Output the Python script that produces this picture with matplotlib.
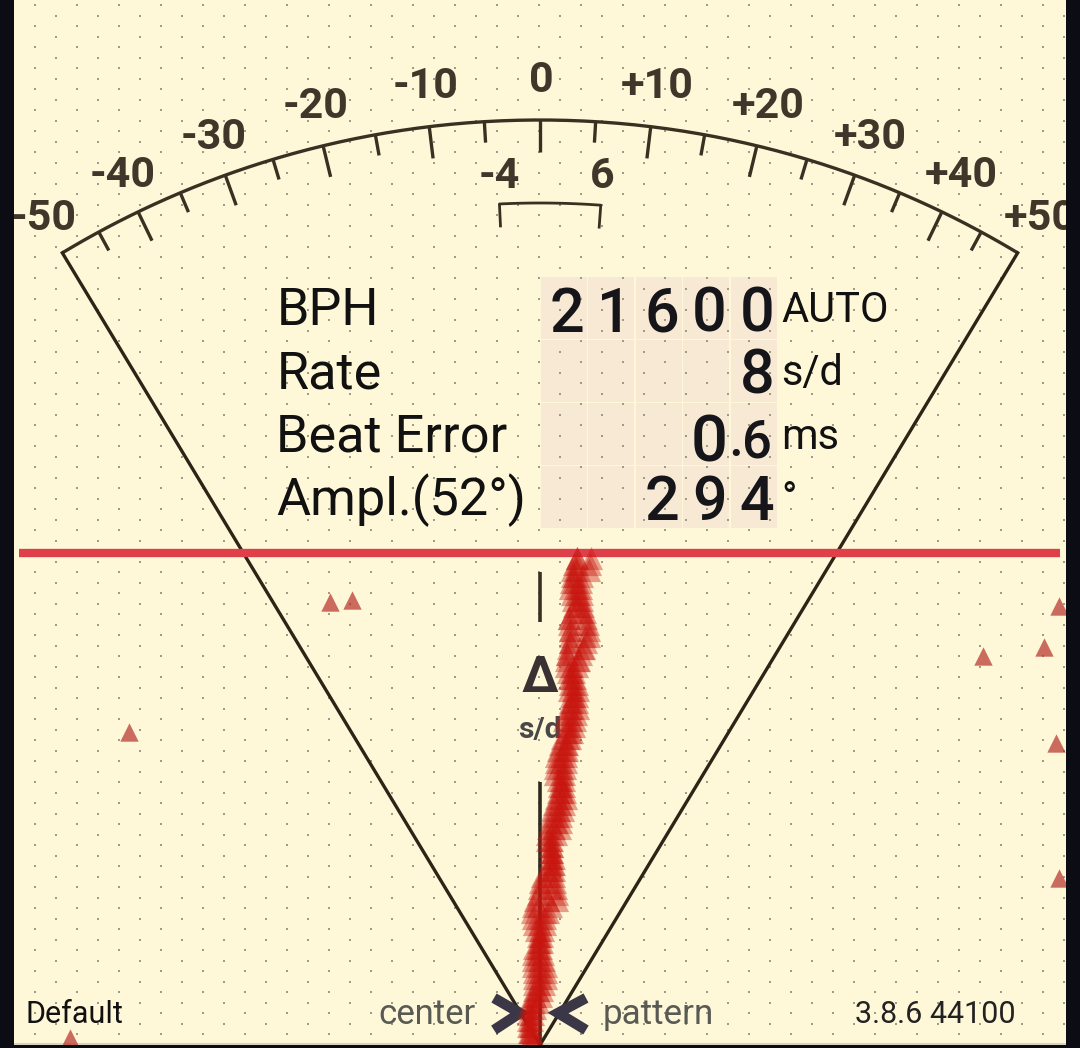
import matplotlib
matplotlib.use("Agg")
import matplotlib.pyplot as plt
import numpy as np

plt.rcParams["font.family"] = ["Roboto", "DejaVu Sans"]

# scale, in s/d
tick_rates = list(range(-45, 50, 5))
label_rates = [-50, -40, -30, -20, -10, 0, 10, 20, 30, 40, 50]
label_texts = ["-50", "-40", "-30", "-20", "-10", "0", "+10", "+20", "+30", "+40", "+50"]
window_rates = [-4, 6]

# readout
row_names = ["BPH", "Rate", "Beat Error", "Ampl.(52°)"]
row_units = ["AUTO", "s/d", "ms", "°"]
row_digits = [["2", "1", "6", "0", "0"], ["", "", "", "", "8"], ["", "", "", "0", "6"], ["", "", "2", "9", "4"]]
digit_base = [332, 394, 461, 520]

trace_y = list(range(558, 1044, 6))
trace_left = [577, 574, 572, 572, 571, 570, 572, 573, 574, 572, 569, 569, 570, 570, 570, 568,
              567, 566, 566, 568, 569, 570, 569, 571, 570, 568, 566, 564, 566, 566, 562, 560,
              558, 556, 556, 555, 555, 558, 559, 558, 556, 554, 552, 551, 550, 548, 547, 547,
              549, 550, 550, 550, 547, 542, 540, 539, 538, 535, 533, 532, 533, 534, 536, 538,
              538, 534, 533, 533, 533, 534, 534, 534, 534, 532, 530, 528, 528, 528, 528, 529, 530]
trace_mid = [577, 577, 576, 574, 575, 577, 578, 578, 578, 582, 569, 584, 570, 585, 570, 583,
             567, 579, 572, 572, 571, 573, 573, 574, 572, 572, 571, 571, 570, 570, 568, 566,
             565, 562, 561, 562, 562, 561, 561, 562, 561, 560, 559, 557, 556, 554, 552, 551,
             552, 552, 552, 553, 552, 549, 545, 552, 545, 548, 538, 545, 540, 540, 540, 540,
             540, 538, 538, 539, 539, 540, 540, 539, 538, 535, 534, 532, 531, 530, 530, 530, 531]
trace_right = [591, 590, 589, 582, 581, 581, 582, 582, 583, 585, 586, 588, 589, 589, 586, 584,
               581, 578, 577, 574, 575, 577, 578, 577, 577, 578, 576, 575, 574, 572, 570, 567,
               567, 566, 566, 565, 564, 564, 564, 565, 566, 564, 563, 561, 561, 560, 556, 552,
               552, 552, 554, 554, 554, 554, 555, 556, 557, 557, 551, 548, 545, 545, 543, 542,
               542, 541, 543, 544, 546, 546, 546, 544, 542, 541, 538, 535, 533, 532, 531, 531, 534]

# stray beats
stray_x = [330, 352, 983, 1044, 1059, 129, 1056, 1059, 70]
stray_y = [602, 600, 656, 647, 606, 732, 743, 878, 1038]

apex_x, apex_y = 540, 1045
arc_r = 925
ink = "#3a3022"
cream = "#fff8d8"


def gauge(rate, r):
    # the scale is linear in the tangent of the fan angle
    a = np.arctan(np.asarray(rate, dtype=float) * 0.01206)
    return apex_x + r * np.sin(a), apex_y - r * np.cos(a)


fig = plt.figure(figsize=(10.8, 10.48), dpi=100, facecolor="#0c0c14")
ax = fig.add_axes([0, 0, 1, 1])
ax.set_xlim(0, 1080)
ax.set_ylim(1048, 0)
ax.axis("off")

ax.fill_between([14, 1066], 0, 1043, color=cream, lw=0, zorder=0)
ax.plot([14, 1066], [1043.5, 1043.5], color="#d8d4c4", lw=1.5, zorder=0.5)

# readout cells sit under the dot grid
for i in range(4):
    for j in range(5):
        ax.fill_between([541 + j * 47.4, 541 + (j + 1) * 47.4 - 1.5],
                        277 + i * 63, 277 + (i + 1) * 63 - 1.5,
                        color="#f7e9d3", lw=0, zorder=1)

# dot grid
for offset_x, offset_y in [(35, 971), (56, 981.5)]:
    xs = np.arange(offset_x % 42, 1066, 42)
    ys = np.arange(offset_y % 21, 1043, 21)
    gx, gy = np.meshgrid(xs, ys)
    keep = gx > 15
    ax.scatter(gx[keep], gy[keep], s=3, marker="s", color="#a09b88", lw=0, zorder=2)

# fan and scale
rates = [-50 + i * 0.5 for i in range(201)]
ax.plot(*gauge(rates, arc_r), color=ink, lw=2.4, zorder=3, solid_capstyle="butt")
for end in (-50, 50):
    ex, ey = gauge(end, arc_r)
    ax.plot([apex_x, ex], [apex_y, ey], color="#2c2416", lw=2.4, zorder=3)
for rate in tick_rates:
    length = 32 if rate % 10 == 0 else 21
    x0, y0 = gauge(rate, arc_r)
    x1, y1 = gauge(rate, arc_r - length)
    ax.plot([x0, x1], [y0, y1], color=ink, lw=2.4, zorder=3, solid_capstyle="butt")
for rate, text in zip(label_rates, label_texts):
    lx, ly = gauge(rate, 965)
    ax.text(lx + 1.5, ly, text, fontsize=31, fontweight="bold", color="#40372a",
            ha="center", va="center", zorder=4)

# tolerance window
window = [window_rates[0] + i * 0.5 for i in range(21)]
wx, wy = gauge(window, 842)
start_x, start_y = gauge(window_rates[0], 820)
stop_x, stop_y = gauge(window_rates[1], 820)
ax.plot(np.r_[start_x, wx, stop_x], np.r_[start_y, wy, stop_y], color=ink, lw=2, zorder=3)
for rate, x_pos in zip(window_rates, [499, 602]):
    ax.text(x_pos, 176, str(rate), fontsize=31, fontweight="bold",
            color="#40372a", ha="center", va="center", zorder=4)

# readout text
for i in range(4):
    ax.text(276.5, 325 + i * 63.5, row_names[i], fontsize=37.6, color="#111111", va="baseline", zorder=4)
    ax.text(781, 322 + i * 63.5, row_units[i], fontsize=30, color="#111111", va="baseline", zorder=4)
    for j, digit in enumerate(row_digits[i]):
        if not digit:
            continue
        size = 44
        base = digit_base[i]
        if i == 2:
            size = 38 if j == 4 else 47
            base = 457 if j == 4 else 461
        ax.text(567 + j * 47.5, base, digit, fontsize=size, fontweight="medium", color="#15151a",
                ha="center", va="baseline", zorder=4)
ax.text(736, 456, ".", fontsize=32, fontweight="bold", color="#15151a", ha="center", va="baseline", zorder=4)

# centre mark
ax.plot([540, 540], [572, 622], color=ink, lw=2.6, zorder=3, solid_capstyle="butt")
ax.plot([540, 540], [782, 1042], color="#2e2a20", lw=2.6, zorder=3, solid_capstyle="butt")
ax.text(540, 679, "Δ", fontsize=36, fontweight="bold", color="#3a3232", ha="center", va="center", zorder=4)
ax.text(540, 730, "s/d", fontsize=21.5, fontweight="bold", color="#484848", ha="center", va="center", zorder=4)

# centre chevrons
ax.plot([494, 520, 494], [998, 1013, 1030], color="#3b3746", lw=7.5, solid_joinstyle="miter",
        solid_capstyle="butt", zorder=4)
ax.plot([586, 558, 586], [998, 1013, 1030], color="#3b3746", lw=7.5, solid_joinstyle="miter",
        solid_capstyle="butt", zorder=4)

# red line goes above the grid but under the beats
ax.plot([19, 1060], [553, 553], color="#de3f49", lw=6, zorder=4.5, solid_capstyle="butt")

# beats
for run in (trace_left, trace_mid, trace_right):
    ax.scatter(run, trace_y, s=280, marker="^", color="#c8160f", alpha=0.4, lw=0, zorder=5)
ax.scatter(stray_x, stray_y, s=175, marker="^", color="#b5302a", alpha=0.7, lw=0, zorder=5)

# footer
ax.text(25, 1023, "Default", fontsize=22, color="#111111", va="baseline", zorder=4)
ax.text(476, 1024, "center", fontsize=25, color="#5a5a55", ha="right", va="baseline", zorder=4)
ax.text(603, 1024, "pattern", fontsize=25.2, color="#5a5a55", va="baseline", zorder=4)
ax.text(1016, 1023, "3.8.6 44100", fontsize=22, color="#222222", ha="right", va="baseline", zorder=4)

# screen edges crop the outer labels
ax.fill_between([0, 14], 0, 1048, color="#0c0c14", lw=0, zorder=6)
ax.fill_between([1066, 1080], 0, 1048, color="#0c0c14", lw=0, zorder=6)
ax.fill_between([0, 1080], 1045, 1048, color="#0c0c14", lw=0, zorder=6)

fig.savefig("out.png", dpi=100, facecolor=fig.get_facecolor())
plt.close(fig)
